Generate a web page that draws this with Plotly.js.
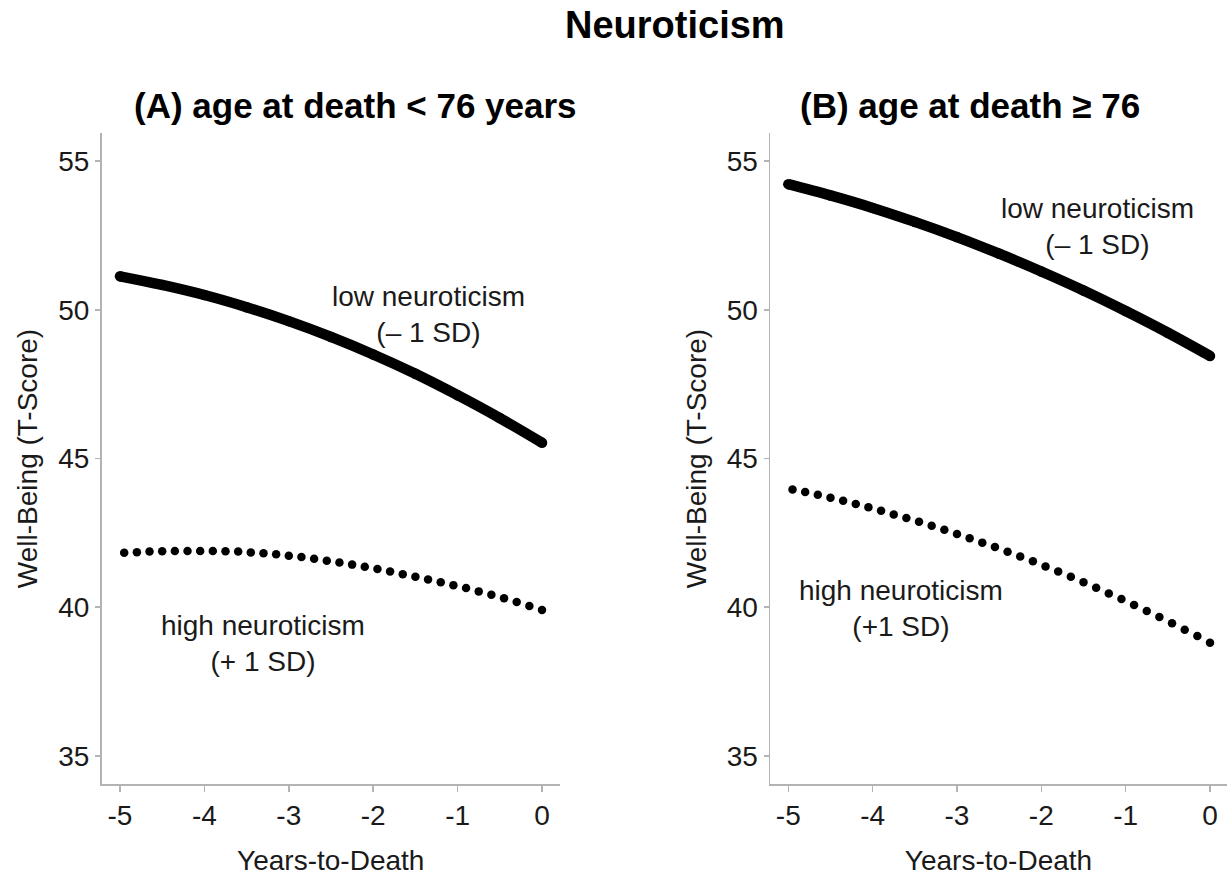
<!DOCTYPE html>
<html>
<head>
<meta charset="utf-8">
<script src="https://cdn.plot.ly/plotly-3.0.1.min.js"></script>
<style>
html, body { margin: 0; padding: 0; background: #fff; }
#chart { width: 1227px; height: 878px; }
</style>
</head>
<body>
<div id="chart"></div>
<script>
// ---- data ----
const yearsLine = [-5, -4.5, -4, -3.5, -3, -2.5, -2, -1.5, -1, -0.5, 0];
const lowNeuroA = [51.13, 50.84, 50.50, 50.09, 49.62, 49.09, 48.50, 47.85, 47.13, 46.36, 45.53];
const lowNeuroB = [54.23, 53.85, 53.43, 52.96, 52.45, 51.89, 51.29, 50.65, 49.96, 49.23, 48.45];

const yearsDots = [-4.95, -4.80, -4.65, -4.50, -4.35, -4.20, -4.05, -3.90, -3.75, -3.60, -3.45, -3.30,
                   -3.15, -3.00, -2.85, -2.70, -2.55, -2.40, -2.25, -2.10, -1.95, -1.80, -1.65, -1.50,
                   -1.35, -1.20, -1.05, -0.90, -0.75, -0.60, -0.45, -0.30, -0.15, 0.00];
const highNeuroA = [41.83, 41.85, 41.87, 41.88, 41.89, 41.89, 41.89, 41.89, 41.88, 41.87, 41.84, 41.81,
                    41.78, 41.73, 41.69, 41.63, 41.56, 41.50, 41.43, 41.36, 41.28, 41.20, 41.11, 41.02,
                    40.93, 40.84, 40.74, 40.64, 40.53, 40.42, 40.30, 40.17, 40.04, 39.90];
const highNeuroB = [43.96, 43.87, 43.78, 43.68, 43.58, 43.47, 43.36, 43.24, 43.12, 43.00, 42.87, 42.74,
                    42.60, 42.46, 42.32, 42.17, 42.02, 41.86, 41.70, 41.54, 41.37, 41.20, 41.02, 40.84,
                    40.65, 40.46, 40.27, 40.07, 39.87, 39.67, 39.46, 39.24, 39.03, 38.80];

const xTickVals = [-5, -4, -3, -2, -1, 0];
const xTickText = ["-5", "-4", "-3", "-2", "-1", "0"];
const yTickVals = [35, 40, 45, 50, 55];
const yTickText = ["35", "40", "45", "50", "55"];

// ---- styling ----
const FONT = "Liberation Sans, Arial, Helvetica, sans-serif";
const TXT = "#1a1a1a";
const AXC = "#b3b3b3";
const W = 1227, H = 878;
const px = v => v / W;
const py = v => 1 - v / H;
const FS = 28;

const traces = [
  {x: yearsLine, y: lowNeuroA, xaxis: "x", yaxis: "y", mode: "lines+markers", line: {shape: "spline", color: "#000", width: 10.5}, marker: {size: 10.5, color: "#000"}, name: "low A"},
  {x: yearsDots, y: highNeuroA, xaxis: "x", yaxis: "y", mode: "markers", marker: {size: 8.5, color: "#000"}, name: "high A"},
  {x: yearsLine, y: lowNeuroB, xaxis: "x2", yaxis: "y2", mode: "lines+markers", line: {shape: "spline", color: "#000", width: 10.5}, marker: {size: 10.5, color: "#000"}, name: "low B"},
  {x: yearsDots, y: highNeuroB, xaxis: "x2", yaxis: "y2", mode: "markers", marker: {size: 8.5, color: "#000"}, name: "high B"}
];

function xAxis(domain, range, anchor) {
  return {
    domain: domain, range: range, anchor: anchor,
    tickmode: "array", tickvals: xTickVals, ticktext: xTickText,
    ticks: "outside", ticklen: 6, tickwidth: 1.5, tickcolor: AXC,
    showline: true, linecolor: AXC, linewidth: 1.5,
    showgrid: false, zeroline: false,
    tickfont: {family: FONT, size: FS, color: TXT},
    title: {text: "Years-to-Death", font: {family: FONT, size: FS, color: TXT}, standoff: 20}
  };
}
function yAxis(domain, anchor) {
  return {
    domain: domain, range: [34.04, 55.96], anchor: anchor,
    tickmode: "array", tickvals: yTickVals, ticktext: yTickText,
    ticks: "outside", ticklen: 5, tickwidth: 1.5, tickcolor: AXC,
    showline: true, linecolor: AXC, linewidth: 1.5,
    showgrid: false, zeroline: false,
    tickfont: {family: FONT, size: FS, color: TXT},
    title: {text: "Well-Being (T-Score)", font: {family: FONT, size: FS, color: TXT}, standoff: 12}
  };
}

const yDom = [py(784.3), py(132.7)];

const layout = {
  width: W, height: H,
  margin: {l: 0, r: 0, t: 0, b: 0},
  paper_bgcolor: "#fff", plot_bgcolor: "#fff",
  showlegend: false,
  font: {family: FONT, color: TXT},
  xaxis: xAxis([px(101.5), px(560)], [-5.219, 0.213], "y"),
  yaxis: yAxis(yDom, "x"),
  xaxis2: xAxis([px(770), 1], [-5.217, 0.2016], "y2"),
  yaxis2: yAxis(yDom, "x2"),
  annotations: [
    {text: "<b>Neuroticism</b>", xref: "paper", yref: "paper", x: px(675), y: py(25), xanchor: "center", yanchor: "middle", showarrow: false, font: {family: FONT, size: 38, color: "#000"}},
    {text: "<b>(A) age at death < 76 years</b>", xref: "paper", yref: "paper", x: px(355), y: py(106), xanchor: "center", yanchor: "middle", showarrow: false, font: {family: FONT, size: 35, color: "#000"}},
    {text: "<b>(B) age at death ≥ 76</b>", xref: "paper", yref: "paper", x: px(970), y: py(106), xanchor: "center", yanchor: "middle", showarrow: false, font: {family: FONT, size: 35, color: "#000"}},
    {text: "low neuroticism<br>(– 1 SD)", xref: "x", yref: "y", x: -1.35, y: 49.83, xanchor: "center", yanchor: "middle", showarrow: false, font: {family: FONT, size: FS, color: TXT}},
    {text: "high neuroticism<br>(+ 1 SD)", xref: "x", yref: "y", x: -3.31, y: 38.76, xanchor: "center", yanchor: "middle", showarrow: false, font: {family: FONT, size: FS, color: TXT}},
    {text: "low neuroticism<br>(– 1 SD)", xref: "x2", yref: "y2", x: -1.33, y: 52.79, xanchor: "center", yanchor: "middle", showarrow: false, font: {family: FONT, size: FS, color: TXT}},
    {text: "high neuroticism<br>(+1 SD)", xref: "x2", yref: "y2", x: -3.66, y: 39.97, xanchor: "center", yanchor: "middle", showarrow: false, font: {family: FONT, size: FS, color: TXT}}
  ]
};

Plotly.newPlot("chart", traces, layout, {displayModeBar: false, staticPlot: true});
</script>
</body>
</html>
